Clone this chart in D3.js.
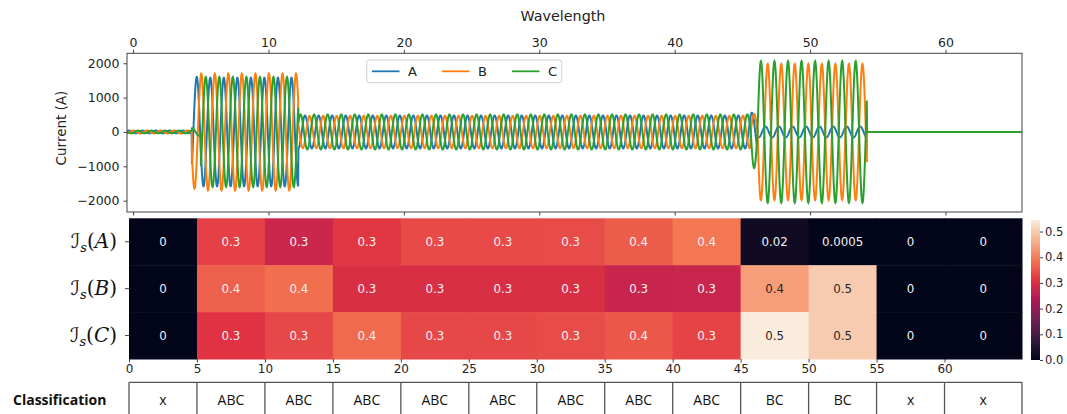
<!DOCTYPE html>
<html>
<head>
<meta charset="utf-8">
<script src="https://cdn.jsdelivr.net/npm/d3@7"></script>
<style>
    body { margin: 0; background: #fff; }
    svg { display: block; font-family: "DejaVu Sans", sans-serif; }
</style>
</head>
<body>
<svg id="chart" width="1067" height="414"></svg>
<script>
'use strict';

// Waveform envelope, one entry per segment (wavelengths, amps, degrees)
const segStart = [-0.45, 4.35, 5.0, 12.2, 45.6, 46.1, 54.2];
const segEnd = [4.35, 5.0, 12.2, 45.6, 46.1, 54.2, 65.65];
const ampA = [40, 1600, 1580, 480, 560, 160, 0];
const ampB = [45, 1650, 1700, 470, 520, 1980, 0];
const ampC = [40, 110, 1600, 510, 1050, 2060, 0];
const phaseA = [0, 0, 0, 0, 0, 0, 0];
const phaseB = [-120, -120, -120, -120, -60, -60, 0];
const phaseC = [120, 120, 120, 120, 120, 120, 0];
const phaseNames = ['A', 'B', 'C'];

const topTicks = [0, 10, 20, 30, 40, 50, 60];
const currentTicks = [-2000, -1000, 0, 1000, 2000];

// Heatmap: one column per 5-wavelength window
const windows = [0, 5, 10, 15, 20, 25, 30, 35, 40, 45, 50, 55, 60];
const isA = [0, 0.327, 0.278, 0.316, 0.338, 0.338, 0.34, 0.36, 0.39, 0.02, 0.0005, 0, 0];
const isB = [0, 0.365, 0.38, 0.30, 0.30, 0.30, 0.30, 0.272, 0.275, 0.44, 0.50, 0, 0];
const isC = [0, 0.31, 0.335, 0.375, 0.335, 0.335, 0.34, 0.355, 0.33, 0.545, 0.50, 0, 0];
const colorbarTicks = [0, 0.1, 0.2, 0.3, 0.4, 0.5];
const classes = ['x', 'ABC', 'ABC', 'ABC', 'ABC', 'ABC', 'ABC', 'ABC', 'ABC', 'BC', 'BC', 'x', 'x'];

// seaborn "rocket"
const rocket = ['#03051a', '#35193e', '#701f57', '#ad1759', '#e13342', '#f37651', '#f6b48f', '#faebdd'];
const lineColors = ['#1f77b4', '#ff7f0e', '#2ca02c'];

const svg = d3.select('#chart');

drawWaveforms();
drawHeatmap();
drawClassification();

function drawWaveforms() {
    const x = d3.scaleLinear().domain([-0.45, 65.65]).range([127, 1022]);
    const y = d3.scaleLinear().domain([-2330, 2290]).range([212, 53.3]);

    svg.append('text')
        .attr('x', 563).attr('y', 21)
        .attr('text-anchor', 'middle')
        .attr('font-size', 14.3)
        .attr('fill', '#222')
        .text('Wavelength');

    svg.append('clipPath').attr('id', 'plot-clip')
        .append('rect')
        .attr('x', 127).attr('y', 53.3)
        .attr('width', 895).attr('height', 158.7);

    const amps = [ampA, ampB, ampC];
    const phases = [phaseA, phaseB, phaseC];
    const times = d3.range(segStart[0], segEnd[segEnd.length - 1] + 0.001, 0.02);

    const line = d3.line()
        .x(d => x(d[0]))
        .y(d => y(d[1]));

    phaseNames.forEach((name, p) => {
        const points = times.map(t => {
            const k = Math.max(0, d3.bisectRight(segStart, t) - 1);
            const angle = 2 * Math.PI * (t - 0.7) + Math.PI / 2 + phases[p][k] * Math.PI / 180;
            return [t, amps[p][k] * Math.sin(angle)];
        });

        svg.append('path')
            .datum(points)
            .attr('clip-path', 'url(#plot-clip)')
            .attr('fill', 'none')
            .attr('stroke', lineColors[p])
            .attr('stroke-width', 2)
            .attr('d', line);
    });

    svg.append('rect')
        .attr('x', 127).attr('y', 53.3)
        .attr('width', 895).attr('height', 158.7)
        .attr('fill', 'none')
        .attr('stroke', '#444')
        .attr('stroke-width', 1);

    const top = svg.append('g')
        .attr('transform', 'translate(0,53.3)')
        .call(d3.axisTop(x).tickValues(topTicks).tickSize(3.5).tickPadding(3));
    styleAxis(top, 12.5);

    const bottom = svg.append('g')
        .attr('transform', 'translate(0,212)')
        .call(d3.axisBottom(x).tickValues(topTicks).tickSize(3.5).tickFormat(''));
    styleAxis(bottom, 12.5);

    const left = svg.append('g')
        .attr('transform', 'translate(127,0)')
        .call(d3.axisLeft(y).tickValues(currentTicks).tickSize(3.5).tickPadding(4).tickFormat(d3.format('d')));
    styleAxis(left, 12.5);

    svg.append('text')
        .attr('transform', 'translate(66,128) rotate(-90)')
        .attr('text-anchor', 'middle')
        .attr('font-size', 13.5)
        .attr('fill', '#222')
        .text('Current (A)');

    // legend
    const legend = svg.append('g');
    legend.append('rect')
        .attr('x', 366.7).attr('y', 60)
        .attr('width', 195).attr('height', 22.7)
        .attr('rx', 2.5)
        .attr('fill', '#fff')
        .attr('fill-opacity', 0.85)
        .attr('stroke', '#d0d0d0');

    phaseNames.forEach((name, i) => {
        const x0 = 372 + i * 70;
        legend.append('line')
            .attr('x1', x0).attr('x2', x0 + 27.5)
            .attr('y1', 71.3).attr('y2', 71.3)
            .attr('stroke', lineColors[i])
            .attr('stroke-width', 1.8);
        legend.append('text')
            .attr('x', x0 + 36).attr('y', 76)
            .attr('font-size', 13)
            .attr('fill', '#222')
            .text(name);
    });
}

function drawHeatmap() {
    const x = d3.scaleLinear().domain([0, 65.7]).range([129, 1022]);
    const y = d3.scaleBand().domain(phaseNames).range([218.3, 359]);
    const vmax = 0.545;
    const color = d3.scaleLinear()
        .domain(rocket.map((c, i) => vmax * i / (rocket.length - 1)))
        .range(rocket)
        .clamp(true);

    const colEnd = i => i < windows.length - 1 ? windows[i + 1] : x.domain()[1];
    const rows = [isA, isB, isC];
    const fmt = d3.format('.1g');

    rows.forEach((values, r) => {
        const name = phaseNames[r];
        values.forEach((v, i) => {
            const x0 = x(windows[i]);
            const x1 = x(colEnd(i));
            const fill = color(v);

            svg.append('rect')
                .attr('x', x0).attr('y', y(name))
                .attr('width', x1 - x0 + 0.5)
                .attr('height', y.bandwidth() + 0.5)
                .attr('fill', fill);

            svg.append('text')
                .attr('x', (x0 + x1) / 2)
                .attr('y', y(name) + y.bandwidth() / 2 + 4)
                .attr('text-anchor', 'middle')
                .attr('font-size', 11.8)
                .attr('fill', luminance(fill) > 0.408 ? '#262626' : '#f4f4f4')
                .text(fmt(v));
        });

        // row label, e.g. I_s(A)
        const label = svg.append('text')
            .attr('x', 117)
            .attr('y', y(name) + y.bandwidth() / 2 + 6)
            .attr('text-anchor', 'end')
            .attr('font-family', '"DejaVu Serif", serif')
            .attr('font-size', 20)
            .attr('fill', '#111');
        label.append('tspan').attr('font-family', '"DejaVu Sans", sans-serif').text('ℐ');
        label.append('tspan').attr('font-size', 13).attr('font-style', 'italic').attr('dy', 4).text('s');
        label.append('tspan').attr('dy', -4).text('(');
        label.append('tspan').attr('font-style', 'italic').text(name);
        label.append('tspan').text(')');
    });

    const left = svg.append('g')
        .attr('transform', 'translate(129,0)')
        .call(d3.axisLeft(y).tickSize(4).tickFormat(''));
    styleAxis(left, 12);

    const bottom = svg.append('g')
        .attr('transform', 'translate(0,359)')
        .call(d3.axisBottom(x).tickValues(windows).tickSize(3.5).tickPadding(2));
    styleAxis(bottom, 12);

    // colorbar
    const cb = d3.scaleLinear().domain([0, vmax]).range([360, 220]);
    const grad = svg.append('defs').append('linearGradient')
        .attr('id', 'rocket-grad')
        .attr('x1', 0).attr('y1', 1).attr('x2', 0).attr('y2', 0);
    rocket.forEach((c, i) => {
        grad.append('stop')
            .attr('offset', i / (rocket.length - 1))
            .attr('stop-color', c);
    });

    svg.append('rect')
        .attr('x', 1031).attr('y', 220)
        .attr('width', 9).attr('height', 140)
        .attr('fill', 'url(#rocket-grad)');

    const cbAxis = svg.append('g')
        .attr('transform', 'translate(1040,0)')
        .call(d3.axisRight(cb).tickValues(colorbarTicks).tickSize(3).tickPadding(2).tickFormat(d3.format('.1f')));
    styleAxis(cbAxis, 11.5);
}

function drawClassification() {
    const x = d3.scaleLinear().domain([0, 65.7]).range([129, 1022]);
    const colEnd = i => i < windows.length - 1 ? windows[i + 1] : x.domain()[1];
    const top = 382.3;

    svg.append('text')
        .attr('x', 13).attr('y', 404.5)
        .attr('font-family', '"Open Sans", sans-serif')
        .attr('font-weight', 700)
        .attr('font-size', 14)
        .attr('fill', '#111')
        .text('Classification');

    const table = svg.append('g')
        .attr('fill', 'none')
        .attr('stroke', '#555')
        .attr('stroke-width', 1.3);

    table.append('line')
        .attr('x1', x(0)).attr('x2', x(x.domain()[1]))
        .attr('y1', top).attr('y2', top);

    classes.forEach((c, i) => {
        const x0 = x(windows[i]);
        const x1 = x(colEnd(i));
        table.append('line')
            .attr('x1', x0).attr('x2', x0)
            .attr('y1', top).attr('y2', 416);
        if (i === classes.length - 1) {
            table.append('line')
                .attr('x1', x1).attr('x2', x1)
                .attr('y1', top).attr('y2', 416);
        }

        svg.append('text')
            .attr('x', (x0 + x1) / 2)
            .attr('y', 405)
            .attr('text-anchor', 'middle')
            .attr('font-family', '"Open Sans", sans-serif')
            .attr('font-size', 14)
            .attr('fill', '#111')
            .text(c);
    });
}

function styleAxis(g, fontSize) {
    g.select('.domain').remove();
    g.selectAll('.tick line').attr('stroke', '#444');
    g.selectAll('.tick text')
        .attr('font-size', fontSize)
        .attr('font-family', '"DejaVu Sans", sans-serif')
        .attr('fill', '#222');
}

function luminance(c) {
    const rgb = d3.rgb(c);
    const lin = v => {
        v /= 255;
        return v <= 0.03928 ? v / 12.92 : Math.pow((v + 0.055) / 1.055, 2.4);
    };
    return 0.2126 * lin(rgb.r) + 0.7152 * lin(rgb.g) + 0.0722 * lin(rgb.b);
}
</script>
</body>
</html>
